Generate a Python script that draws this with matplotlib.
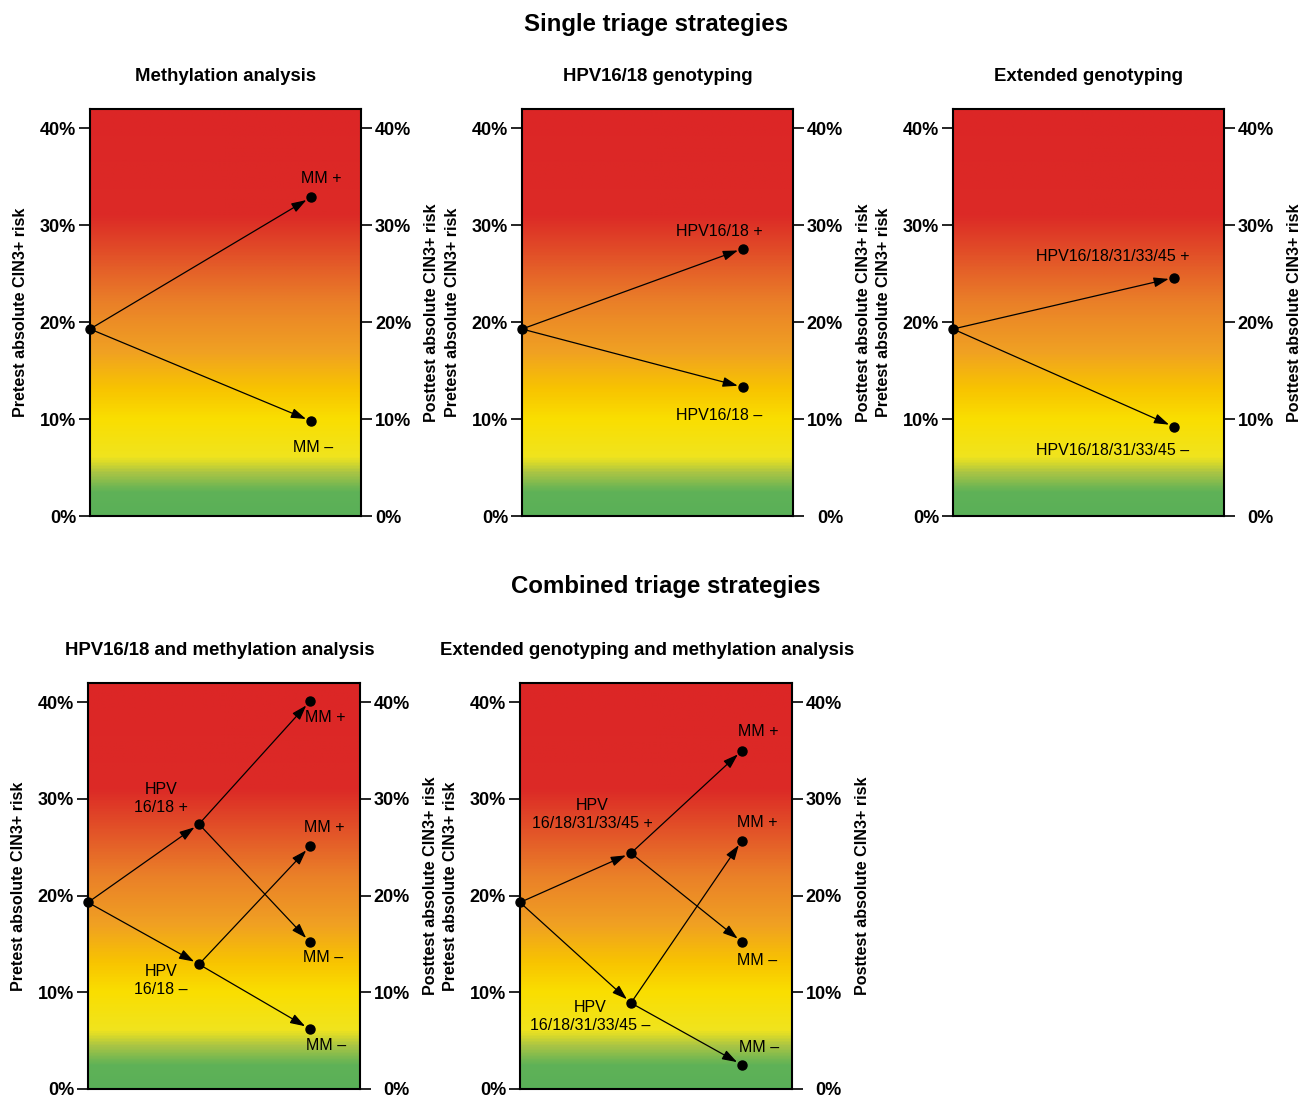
import numpy as np
import matplotlib
matplotlib.use("Agg")
import matplotlib.pyplot as plt
from matplotlib.colors import LinearSegmentedColormap

plt.rcParams["font.family"] = ["Liberation Sans", "DejaVu Sans"]

# ---- data (absolute CIN3+ risk, %) ----
PRETEST = 19.3

single_titles = ["Methylation analysis", "HPV16/18 genotyping", "Extended genotyping"]
single_pos = [32.9, 27.6, 24.6]
single_neg = [9.8, 13.3, 9.2]
single_pos_labels = ["MM +", "HPV16/18 +", "HPV16/18/31/33/45 +"]
single_neg_labels = ["MM \u2013", "HPV16/18 \u2013", "HPV16/18/31/33/45 \u2013"]

combined_titles = ["HPV16/18 and methylation analysis",
                   "Extended genotyping and methylation analysis"]
comb_hpv_pos = [27.4, 24.4]
comb_hpv_neg = [12.9, 8.9]
comb_pos_mm_pos = [40.1, 35.0]   # HPV+ then MM+
comb_pos_mm_neg = [15.2, 15.2]   # HPV+ then MM-
comb_neg_mm_pos = [25.1, 25.7]   # HPV- then MM+
comb_neg_mm_neg = [6.2, 2.5]     # HPV- then MM-
comb_hpv_pos_labels = ["HPV\n16/18 +", "HPV\n16/18/31/33/45 +"]
comb_hpv_neg_labels = ["HPV\n16/18 \u2013", "HPV\n16/18/31/33/45 \u2013"]

yticks = [0, 10, 20, 30, 40]
YMAX = 42

# risk colour scale
grad_stops = [0, 2.4, 4.3, 6.0, 10, 13, 17, 22, 27, 31, 42]
grad_colors = ["#5ab058", "#5fb257", "#a8c445", "#f0e41e", "#fade00", "#f8c400",
               "#f0a023", "#ea8028", "#e25028", "#dc2a26", "#dc2626"]
cmap = LinearSegmentedColormap.from_list(
    "risk", list(zip(np.array(grad_stops) / YMAX, grad_colors)))

X_MID, X_END = 0.408, 0.816


def setup(fig, rect, title, right_ha="right", title_x=0.5):
    ax = fig.add_axes(rect)
    grad = np.linspace(0, YMAX, 400).reshape(-1, 1)
    ax.imshow(grad, extent=[0, 1, 0, YMAX], origin="lower", aspect="auto",
              cmap=cmap, vmin=0, vmax=YMAX, zorder=0)
    ax.set_xlim(0, 1)
    ax.set_ylim(0, YMAX)
    ax.set_xticks([])
    ax.set_yticks(yticks)
    ax.set_yticklabels([f"{t}%" for t in yticks], fontweight="bold", fontsize=13)
    ax.tick_params(axis="y", length=8, width=1.2, pad=2)
    for s in ax.spines.values():
        s.set_linewidth(1.5)
    ax.set_ylabel("Pretest absolute CIN3+ risk", fontweight="bold", fontsize=11.6)
    ax.yaxis.set_label_coords(-0.229, 0.5)

    ax2 = ax.twinx()
    ax2.set_ylim(0, YMAX)
    ax2.set_yticks(yticks)
    ax2.set_yticklabels([f"{t}%" for t in yticks], fontweight="bold", fontsize=13,
                        ha=right_ha)
    ax2.tick_params(axis="y", length=8, width=1.2,
                    pad=2 if right_ha == "left" else 28)
    for s in ax2.spines.values():
        s.set_visible(False)
    ax2.set_ylabel("Posttest absolute CIN3+ risk", fontweight="bold", fontsize=11.6,
                   rotation=90)
    ax2.yaxis.set_label_coords(1.232, 0.5)

    ax.text(title_x, 1.08, title, transform=ax.transAxes, ha="center", va="center",
            fontweight="bold", fontsize=13.4)
    return ax


def arrow(ax, x0, y0, x1, y1):
    ax.annotate("", xy=(x1, y1), xytext=(x0, y0),
                arrowprops=dict(arrowstyle="-|>,head_length=0.9,head_width=0.3",
                                color="black", lw=0.9, shrinkA=0, shrinkB=4),
                annotation_clip=False, zorder=3)


def dot(ax, x, y):
    ax.plot([x], [y], "o", color="black", markersize=6.5, clip_on=False, zorder=4)


def label(ax, x, y, txt, dx, dy):
    ax.annotate(txt, xy=(x, y), xytext=(dx, dy), textcoords="offset pixels",
                ha="center", va="center", fontsize=11.5, linespacing=1.25,
                annotation_clip=False, zorder=5)


fig = plt.figure(figsize=(13, 10.98), dpi=100)

fig.text(656 / 1300, 1 - 24 / 1098, "Single triage strategies", ha="center",
         va="center", fontweight="bold", fontsize=17.3)
fig.text(666 / 1300, 1 - 586 / 1098, "Combined triage strategies", ha="center",
         va="center", fontweight="bold", fontsize=17.3)

row1_left = [90, 522, 953]
pos_off = [(10, 19), (-24, 17), (-61, 21)]
neg_off = [(2, -26), (-24, -28), (-62, -24)]
for i in range(3):
    ax = setup(fig, [row1_left[i] / 1300, 0.530, 271 / 1300, 0.3707],
               single_titles[i], right_ha="left" if i == 0 else "right")
    arrow(ax, 0, PRETEST, X_END, single_pos[i])
    arrow(ax, 0, PRETEST, X_END, single_neg[i])
    dot(ax, 0, PRETEST)
    dot(ax, X_END, single_pos[i])
    dot(ax, X_END, single_neg[i])
    label(ax, X_END, single_pos[i], single_pos_labels[i], *pos_off[i])
    label(ax, X_END, single_neg[i], single_neg_labels[i], *neg_off[i])

row2_left = [88, 520]
title_xs = [0.485, 0.467]
hpv_pos_off = [(-38, 26), (-39, 39)]
hpv_neg_off = [(-38, -16), (-41, -14)]
pp_off = [(15, -16), (16, 19)]
pn_off = [(13, -15), (15, -18)]
np_off = [(14, 19), (15, 18)]
nn_off = [(16, -16), (17, 17)]
for i in range(2):
    ax = setup(fig, [row2_left[i] / 1300, 0.0082, 272 / 1300, 0.3698],
               combined_titles[i], title_x=title_xs[i])
    arrow(ax, 0, PRETEST, X_MID, comb_hpv_pos[i])
    arrow(ax, 0, PRETEST, X_MID, comb_hpv_neg[i])
    arrow(ax, X_MID, comb_hpv_pos[i], X_END, comb_pos_mm_pos[i])
    arrow(ax, X_MID, comb_hpv_pos[i], X_END, comb_pos_mm_neg[i])
    arrow(ax, X_MID, comb_hpv_neg[i], X_END, comb_neg_mm_pos[i])
    arrow(ax, X_MID, comb_hpv_neg[i], X_END, comb_neg_mm_neg[i])
    dot(ax, 0, PRETEST)
    for x, y in [(X_MID, comb_hpv_pos[i]), (X_MID, comb_hpv_neg[i]),
                 (X_END, comb_pos_mm_pos[i]), (X_END, comb_pos_mm_neg[i]),
                 (X_END, comb_neg_mm_pos[i]), (X_END, comb_neg_mm_neg[i])]:
        dot(ax, x, y)
    label(ax, X_MID, comb_hpv_pos[i], comb_hpv_pos_labels[i], *hpv_pos_off[i])
    label(ax, X_MID, comb_hpv_neg[i], comb_hpv_neg_labels[i], *hpv_neg_off[i])
    label(ax, X_END, comb_pos_mm_pos[i], "MM +", *pp_off[i])
    label(ax, X_END, comb_pos_mm_neg[i], "MM \u2013", *pn_off[i])
    label(ax, X_END, comb_neg_mm_pos[i], "MM +", *np_off[i])
    label(ax, X_END, comb_neg_mm_neg[i], "MM \u2013", *nn_off[i])

fig.savefig("out.png", dpi=100)
